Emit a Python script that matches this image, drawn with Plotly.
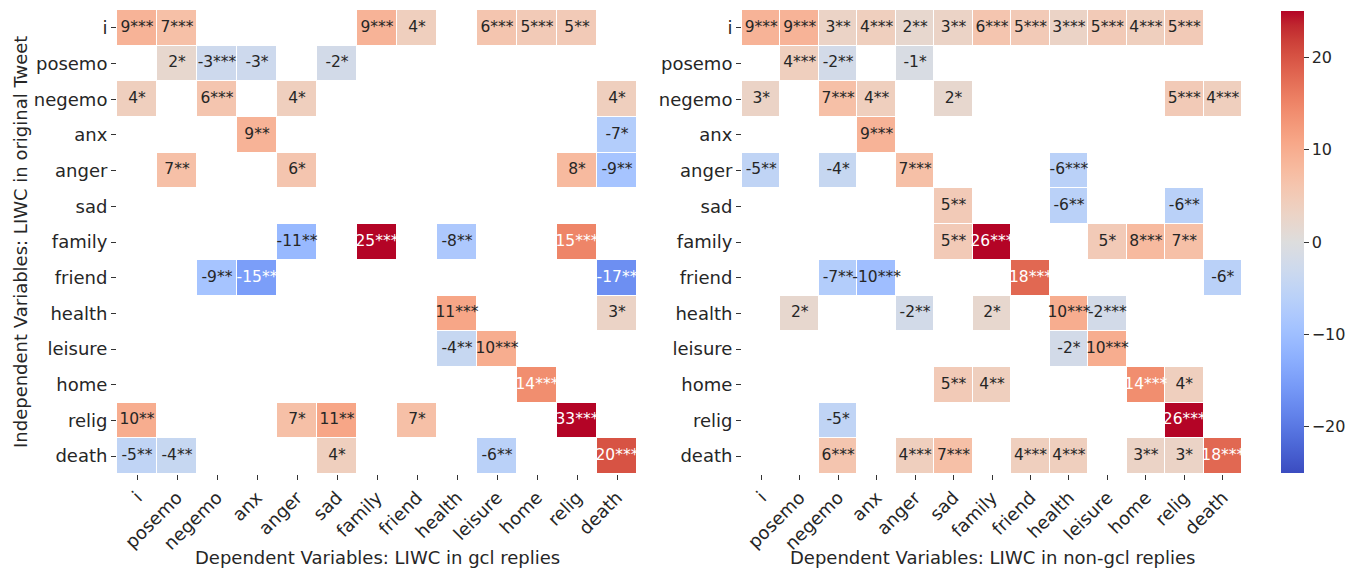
import plotly.graph_objects as go

categories = ["i", "posemo", "negemo", "anx", "anger", "sad", "family",
              "friend", "health", "leisure", "home", "relig", "death"]

# Rows: LIWC in original tweet; columns: LIWC in replies ("" = not significant)
gcl_cells = [
    ["9***", "7***", "", "", "", "", "9***", "4*", "", "6***", "5***", "5**", ""],
    ["", "2*", "-3***", "-3*", "", "-2*", "", "", "", "", "", "", ""],
    ["4*", "", "6***", "", "4*", "", "", "", "", "", "", "", "4*"],
    ["", "", "", "9**", "", "", "", "", "", "", "", "", "-7*"],
    ["", "7**", "", "", "6*", "", "", "", "", "", "", "8*", "-9**"],
    ["", "", "", "", "", "", "", "", "", "", "", "", ""],
    ["", "", "", "", "-11**", "", "25***", "", "-8**", "", "", "15***", ""],
    ["", "", "-9**", "-15**", "", "", "", "", "", "", "", "", "-17**"],
    ["", "", "", "", "", "", "", "", "11***", "", "", "", "3*"],
    ["", "", "", "", "", "", "", "", "-4**", "10***", "", "", ""],
    ["", "", "", "", "", "", "", "", "", "", "14***", "", ""],
    ["10**", "", "", "", "7*", "11**", "", "7*", "", "", "", "33***", ""],
    ["-5**", "-4**", "", "", "", "4*", "", "", "", "-6**", "", "", "20***"],
]

nongcl_cells = [
    ["9***", "9***", "3**", "4***", "2**", "3**", "6***", "5***", "3***", "5***", "4***", "5***", ""],
    ["", "4***", "-2**", "", "-1*", "", "", "", "", "", "", "", ""],
    ["3*", "", "7***", "4**", "", "2*", "", "", "", "", "", "5***", "4***"],
    ["", "", "", "9***", "", "", "", "", "", "", "", "", ""],
    ["-5**", "", "-4*", "", "7***", "", "", "", "-6***", "", "", "", ""],
    ["", "", "", "", "", "5**", "", "", "-6**", "", "", "-6**", ""],
    ["", "", "", "", "", "5**", "26***", "", "", "5*", "8***", "7**", ""],
    ["", "", "-7**", "-10***", "", "", "", "18***", "", "", "", "", "-6*"],
    ["", "2*", "", "", "-2**", "", "2*", "", "10***", "-2***", "", "", ""],
    ["", "", "", "", "", "", "", "", "-2*", "10***", "", "", ""],
    ["", "", "", "", "", "5**", "4**", "", "", "", "14***", "4*", ""],
    ["", "", "-5*", "", "", "", "", "", "", "", "", "26***", ""],
    ["", "", "6***", "", "4***", "7***", "", "4***", "4***", "", "3**", "3*", "18***"],
]

colorbar_ticks = [-20, -10, 0, 10, 20]

# matplotlib "coolwarm" (Moreland) control points
coolwarm_rgb = [
    (59, 76, 192), (68, 90, 204), (77, 104, 215), (87, 117, 225), (98, 130, 234),
    (108, 142, 241), (119, 154, 247), (130, 165, 251), (141, 176, 254), (152, 185, 255),
    (163, 194, 255), (174, 201, 253), (184, 208, 249), (194, 213, 244), (204, 217, 238),
    (213, 219, 230), (221, 221, 221), (229, 216, 209), (236, 211, 197), (241, 204, 185),
    (245, 196, 173), (247, 187, 160), (247, 177, 148), (247, 166, 135), (244, 154, 123),
    (241, 141, 111), (236, 127, 99), (229, 112, 88), (222, 96, 77), (213, 80, 66),
    (203, 62, 56), (192, 40, 47), (180, 4, 38),
]
n = len(coolwarm_rgb)
colorscale = [[i / (n - 1), "rgb(%d,%d,%d)" % c] for i, c in enumerate(coolwarm_rgb)]

FONT = "DejaVu Sans"
DARK = "#262626"


def parse(cells):
    z = []
    for row in cells:
        z.append([float(s.rstrip("*")) if s else None for s in row])
    return z


def text_trace(cells, xa, ya):
    xs, ys, ts, cs = [], [], [], []
    for r, row in enumerate(cells):
        for c, s in enumerate(row):
            if not s:
                continue
            v = float(s.rstrip("*"))
            xs.append(categories[c])
            ys.append(categories[r])
            ts.append(s)
            cs.append("white" if abs(v) >= 13 else DARK)
    return go.Scatter(x=xs, y=ys, text=ts, mode="text",
                      textfont=dict(family=FONT, size=15.5, color=cs),
                      hoverinfo="skip", showlegend=False, xaxis=xa, yaxis=ya)


fig = go.Figure()
fig.add_trace(go.Heatmap(
    z=parse(gcl_cells), x=categories, y=categories,
    colorscale=colorscale, zmin=-25, zmax=25, xgap=1, ygap=1,
    showscale=True, xaxis="x", yaxis="y",
    colorbar=dict(
        x=1281 / 1345, xanchor="left", xpad=0, ypad=0, thickness=23,
        len=462 / 570, lenmode="fraction", y=1 - 242 / 570, yanchor="middle",
        outlinewidth=0, ticks="outside", ticklen=5, tickcolor="#333",
        tickvals=colorbar_ticks, tickfont=dict(family=FONT, size=16, color=DARK),
    ),
))
fig.add_trace(text_trace(gcl_cells, "x", "y"))
fig.add_trace(go.Heatmap(
    z=parse(nongcl_cells), x=categories, y=categories,
    colorscale=colorscale, zmin=-25, zmax=25, xgap=1, ygap=1,
    showscale=False, xaxis="x2", yaxis="y2",
))
fig.add_trace(text_trace(nongcl_cells, "x2", "y2"))

ydom = [1 - 474 / 570, 1 - 10 / 570]
common_x = dict(tickangle=-45, ticks="outside", ticklen=5, tickcolor="#333",
                tickfont=dict(family=FONT, size=18, color=DARK),
                showgrid=False, zeroline=False, showline=False, automargin=False,
                range=[-0.5, 12.5], categoryorder="array", categoryarray=categories)
common_y = dict(ticks="outside", ticklen=5, tickcolor="#333",
                tickfont=dict(family=FONT, size=18, color=DARK),
                showgrid=False, zeroline=False, showline=False, automargin=False,
                range=[12.5, -0.5], categoryorder="array", categoryarray=categories,
                domain=ydom)

fig.update_layout(
    width=1345, height=570,
    margin=dict(l=0, r=0, t=0, b=0, autoexpand=False),
    paper_bgcolor="white", plot_bgcolor="white",
    font=dict(family=FONT, color=DARK),
    xaxis=dict(domain=[117 / 1345, 637 / 1345], anchor="y", **common_x),
    yaxis=dict(anchor="x", **common_y),
    xaxis2=dict(domain=[742 / 1345, 1242 / 1345], anchor="y2", **common_x),
    yaxis2=dict(anchor="x2", **common_y),
    annotations=[
        dict(text="Dependent Variables: LIWC in gcl replies", xref="paper", yref="paper",
             x=377 / 1345, y=1 - 557 / 570, xanchor="center", yanchor="middle",
             showarrow=False, font=dict(family=FONT, size=18, color=DARK)),
        dict(text="Dependent Variables: LIWC in non-gcl replies", xref="paper", yref="paper",
             x=992 / 1345, y=1 - 557 / 570, xanchor="center", yanchor="middle",
             showarrow=False, font=dict(family=FONT, size=18, color=DARK)),
        dict(text="Independent Variables: LIWC in original Tweet", xref="paper", yref="paper",
             x=20 / 1345, y=1 - 242 / 570, xanchor="center", yanchor="middle",
             textangle=-90, showarrow=False, font=dict(family=FONT, size=18, color=DARK)),
    ],
)

fig.write_html("out.html", config={"displayModeBar": False},
               post_script="document.body.style.margin='0';document.body.style.overflow='hidden';")
